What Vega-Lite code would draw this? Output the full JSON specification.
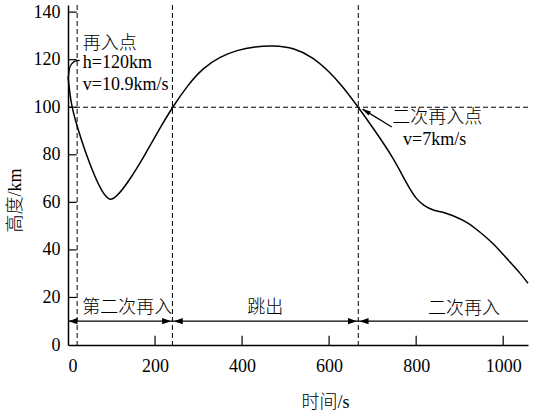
{
  "$schema": "https://vega.github.io/schema/vega-lite/v6.json",
  "width": 460,
  "height": 340,
  "autosize": {"type": "none"},
  "padding": {"left": 68, "top": 5, "right": 7, "bottom": 66},
  "background": "white",
  "config": {
    "font": "Liberation Serif, Noto Sans CJK SC",
    "view": {"stroke": null},
    "axis": {
      "domainColor": "black",
      "domainWidth": 1.5,
      "ticks": false,
      "tickSize": 0,
      "grid": false,
      "labelFont": "Liberation Serif",
      "labelFontSize": 18,
      "labelColor": "black",
      "titleFont": "Liberation Serif, Noto Sans CJK SC",
      "titleFontSize": 18,
      "titleFontWeight": 300,
      "titleColor": "black"
    }
  },
  "datasets": {
    "curve": [
      {"t": 0, "h": 113}, {"t": 4, "h": 106}, {"t": 9, "h": 100},
      {"t": 20, "h": 92.4}, {"t": 40, "h": 81}, {"t": 62, "h": 70.5},
      {"t": 80, "h": 64}, {"t": 90, "h": 62}, {"t": 97, "h": 61},
      {"t": 110, "h": 62}, {"t": 138, "h": 68.3}, {"t": 177, "h": 80},
      {"t": 215, "h": 92.4}, {"t": 240, "h": 100},
      {"t": 276, "h": 109.5}, {"t": 310, "h": 116.5},
      {"t": 350, "h": 121.3}, {"t": 388, "h": 124}, {"t": 430, "h": 125.5},
      {"t": 471, "h": 126}, {"t": 520, "h": 125}, {"t": 563, "h": 121},
      {"t": 600, "h": 115}, {"t": 630, "h": 109}, {"t": 667, "h": 100},
      {"t": 700, "h": 91.5}, {"t": 747, "h": 79},
      {"t": 782, "h": 66.5}, {"t": 800, "h": 61.5}, {"t": 816, "h": 58.8},
      {"t": 840, "h": 56.5}, {"t": 862, "h": 56}, {"t": 890, "h": 54},
      {"t": 917, "h": 51.8}, {"t": 950, "h": 47}, {"t": 977, "h": 42.8},
      {"t": 1010, "h": 36}, {"t": 1040, "h": 30}, {"t": 1057, "h": 26}
    ],
    "phases": [{"t": 21}, {"t": 240}, {"t": 667}],
    "xTicks": [{"t": 200}, {"t": 400}, {"t": 600}, {"t": 800}, {"t": 1000}],
    "yTicks": [{"h": 20}, {"h": 40}, {"h": 60}, {"h": 80}, {"h": 100}, {"h": 120}, {"h": 140}],
    "arrowsLeft": [{"t": 1, "h": 10}, {"t": 243, "h": 10}, {"t": 670, "h": 10}],
    "arrowsRight": [{"t": 237, "h": 10}, {"t": 664, "h": 10}],
    "pointer": [{"t": 744, "h": 91.7}, {"t": 677, "h": 99.2}],
    "pointerTip": [{"t": 676, "h": 99.3}],
    "bracket": [
      {"t": 1, "h": 113}, {"t": 3.5, "h": 116.4}, {"t": 9, "h": 118.3},
      {"t": 18, "h": 119.5}, {"t": 27, "h": 119.7}
    ],
    "notes": [
      {"t": 34, "h": 126.8, "label": "再入点"},
      {"t": 34, "h": 118.5, "label": "h=120km"},
      {"t": 34, "h": 109.5, "label": "v=10.9km/s"},
      {"t": 745, "h": 95.4, "label": "二次再入点"},
      {"t": 770, "h": 86.1, "label": "v=7km/s"}
    ],
    "phaseNames": [
      {"t": 136, "h": 15.5, "label": "第二次再入"},
      {"t": 453, "h": 15.5, "label": "跳出"},
      {"t": 910, "h": 15, "label": "二次再入"}
    ]
  },
  "layer": [
    {
      "data": {"name": "phases"},
      "mark": {"type": "rule", "color": "black", "strokeWidth": 1, "strokeDash": [5, 3]},
      "encoding": {
        "x": {
          "field": "t",
          "type": "quantitative",
          "scale": {"domain": [0, 1057], "nice": false},
          "axis": {
            "values": [0, 200, 400, 600, 800, 1000],
            "format": "d",
            "labelPadding": 12,
            "title": "时间/s",
            "titleX": 257,
            "titleY": 57,
            "titleBaseline": "middle",
            "titleAnchor": "start",
            "titleAlign": "center"
          }
        }
      }
    },
    {
      "data": {"values": [{"h": 100}]},
      "mark": {"type": "rule", "color": "black", "strokeWidth": 1, "strokeDash": [5, 3]},
      "encoding": {
        "y": {
          "field": "h",
          "type": "quantitative",
          "scale": {"domain": [0, 143], "nice": false},
          "axis": {
            "values": [0, 20, 40, 60, 80, 100, 120, 140],
            "labelPadding": 8,
            "title": "高度/km",
            "titleX": -53,
            "titleY": 195,
            "titleAngle": -90,
            "titleAlign": "center",
            "titleBaseline": "middle"
          }
        }
      }
    },
    {
      "data": {"name": "xTicks"},
      "mark": {"type": "rule", "color": "black", "strokeWidth": 1.2},
      "encoding": {
        "x": {"field": "t", "type": "quantitative"},
        "y": {"datum": 0, "type": "quantitative"},
        "y2": {"datum": 3.9}
      }
    },
    {
      "data": {"name": "yTicks"},
      "mark": {"type": "rule", "color": "black", "strokeWidth": 1.2},
      "encoding": {
        "y": {"field": "h", "type": "quantitative"},
        "x": {"datum": 0, "type": "quantitative"},
        "x2": {"datum": 20}
      }
    },
    {
      "data": {"values": [{"h": 10}]},
      "mark": {"type": "rule", "color": "black", "strokeWidth": 1.3},
      "encoding": {"y": {"field": "h", "type": "quantitative"}}
    },
    {
      "data": {"name": "arrowsLeft"},
      "mark": {"type": "point", "shape": "M0,0L2,-0.7L2,0.7Z", "filled": true, "color": "black", "size": 81, "opacity": 1},
      "encoding": {
        "x": {"field": "t", "type": "quantitative"},
        "y": {"field": "h", "type": "quantitative"}
      }
    },
    {
      "data": {"name": "arrowsRight"},
      "mark": {"type": "point", "shape": "M0,0L-2,-0.7L-2,0.7Z", "filled": true, "color": "black", "size": 81, "opacity": 1},
      "encoding": {
        "x": {"field": "t", "type": "quantitative"},
        "y": {"field": "h", "type": "quantitative"}
      }
    },
    {
      "data": {"name": "curve"},
      "mark": {"type": "line", "color": "black", "strokeWidth": 1.5, "interpolate": "basis"},
      "encoding": {
        "x": {"field": "t", "type": "quantitative"},
        "y": {"field": "h", "type": "quantitative"}
      }
    },
    {
      "data": {"name": "bracket"},
      "mark": {"type": "line", "color": "black", "strokeWidth": 1.3, "interpolate": "monotone"},
      "encoding": {
        "x": {"field": "t", "type": "quantitative"},
        "y": {"field": "h", "type": "quantitative"}
      }
    },
    {
      "data": {"name": "pointer"},
      "mark": {"type": "line", "color": "black", "strokeWidth": 1.3},
      "encoding": {
        "x": {"field": "t", "type": "quantitative"},
        "y": {"field": "h", "type": "quantitative"}
      }
    },
    {
      "data": {"name": "pointerTip"},
      "mark": {"type": "point", "shape": "M0,0L2.2,-0.6L2.2,0.6Z", "filled": true, "color": "black", "size": 64, "opacity": 1, "angle": 31},
      "encoding": {
        "x": {"field": "t", "type": "quantitative"},
        "y": {"field": "h", "type": "quantitative"}
      }
    },
    {
      "data": {"name": "notes"},
      "mark": {"type": "text", "align": "left", "baseline": "middle", "fontSize": 18, "fontWeight": 300, "color": "black"},
      "encoding": {
        "x": {"field": "t", "type": "quantitative"},
        "y": {"field": "h", "type": "quantitative"},
        "text": {"field": "label"}
      }
    },
    {
      "data": {"name": "phaseNames"},
      "mark": {"type": "text", "align": "center", "baseline": "middle", "fontSize": 18, "fontWeight": 300, "color": "black"},
      "encoding": {
        "x": {"field": "t", "type": "quantitative"},
        "y": {"field": "h", "type": "quantitative"},
        "text": {"field": "label"}
      }
    }
  ]
}
